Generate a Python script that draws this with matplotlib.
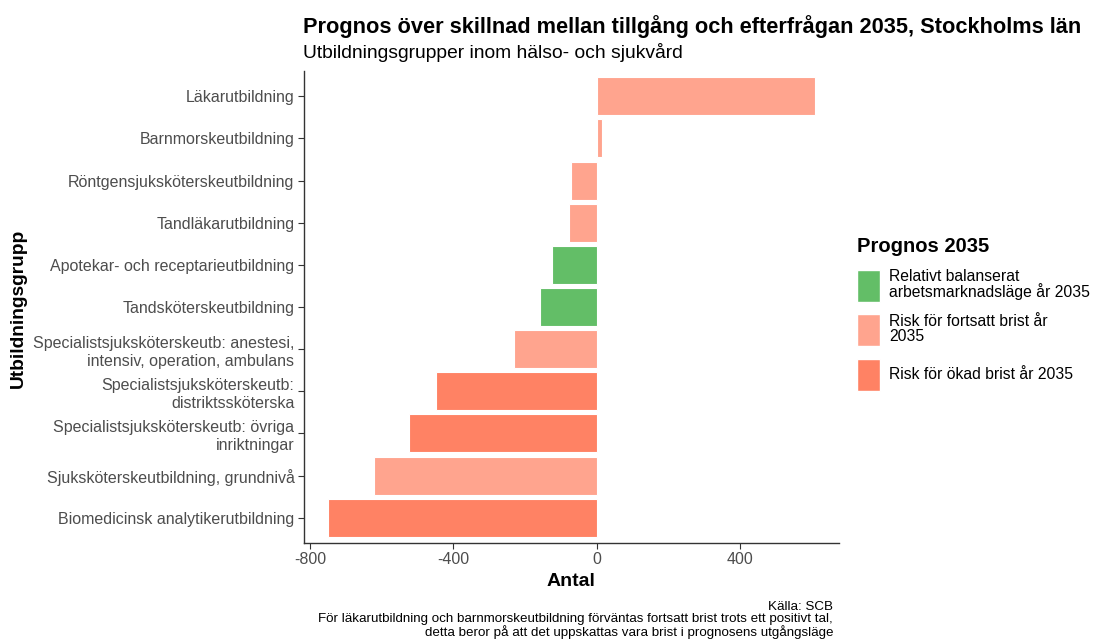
import numpy as np
import matplotlib
matplotlib.use("Agg")
import matplotlib.pyplot as plt
from matplotlib.patches import Patch

plt.rcParams['font.family'] = ['Liberation Sans', 'DejaVu Sans']

# data, top to bottom
grupper = ["Läkarutbildning",
           "Barnmorskeutbildning",
           "Röntgensjuksköterskeutbildning",
           "Tandläkarutbildning",
           "Apotekar- och receptarieutbildning",
           "Tandsköterskeutbildning",
           "Specialistsjuksköterskeutb: anestesi,\nintensiv, operation, ambulans",
           "Specialistsjuksköterskeutb:\ndistriktssköterska",
           "Specialistsjuksköterskeutb: övriga\ninriktningar",
           "Sjuksköterskeutbildning, grundnivå",
           "Biomedicinsk analytikerutbildning"]
antal = [609, 15, -72, -77, -124, -157, -231, -450, -523, -623, -751]
prognos = [1, 1, 1, 1, 0, 0, 1, 2, 2, 1, 2]

kategorier = ["Relativt balanserat\narbetsmarknadsläge år 2035",
              "Risk för fortsatt brist år\n2035",
              "Risk för ökad brist år 2035"]
farger = ["#63BE67", "#FFA48E", "#FF8264"]

W, H = 1099, 642
fig = plt.figure(figsize=(W/100, H/100), dpi=100)
ax = fig.add_axes([303.5/W, 1-543/H, (839-303.5)/W, (543-71)/H])

y = np.arange(len(grupper))
ax.barh(y, antal, height=0.9, color=[farger[p] for p in prognos],
        edgecolor="white", linewidth=0.8)
ax.set_yticks(y)
ax.set_yticklabels(grupper, fontsize=11.5, color="#4D4D4D", linespacing=1.25)
for t in ax.get_yticklabels():
    t.set_multialignment("right")
ax.set_ylim(len(grupper)-0.4, -0.6)
ax.set_xlim(-819, 677)
ax.set_xticks([-800, -400, 0, 400])
ax.set_xticklabels(["-800", "-400", "0", "400"], fontsize=11.5, color="#4D4D4D")
for s in ["top", "right"]:
    ax.spines[s].set_visible(False)
for s in ["left", "bottom"]:
    ax.spines[s].set_color("#333333")
    ax.spines[s].set_linewidth(1.0)
ax.tick_params(colors="#333333", length=4, width=0.8, labelcolor="#4D4D4D", pad=2.5)

ax.set_xlabel("Antal", fontsize=14, fontweight="bold", labelpad=4)
fig.text(18/W, 1-308/H, "Utbildningsgrupp", rotation=90, fontsize=13.8,
         fontweight="bold", ha="center", va="center")

fig.text(303/W, 1-27/H, "Prognos över skillnad mellan tillgång och efterfrågan 2035, Stockholms län",
         fontsize=15.7, fontweight="bold", ha="left", va="center")
fig.text(303/W, 1-53/H, "Utbildningsgrupper inom hälso- och sjukvård",
         fontsize=13.9, ha="left", va="center")

fig.text(833/W, 1-620/H,
         "Källa: SCB\nFör läkarutbildning och barnmorskeutbildning förväntas fortsatt brist trots ett positivt tal,\n"
         "detta beror på att det uppskattas vara brist i prognosens utgångsläge",
         fontsize=9.6, ha="right", va="center", multialignment="right", linespacing=1.0)

handles = [Patch(facecolor=c, edgecolor="white") for c in farger]
leg = fig.legend(handles, kategorier, loc="upper left", bbox_to_anchor=(843/W, 1-223/H),
                 title="Prognos 2035", frameon=False, fontsize=11.3,
                 title_fontproperties={"weight": "bold", "size": 14.5},
                 alignment="left", handlelength=1.45, handleheight=2.75,
                 labelspacing=0.8, handletextpad=0.6)
for t in leg.get_texts():
    t.set_linespacing(0.95)

fig.savefig("out.png", dpi=100)
